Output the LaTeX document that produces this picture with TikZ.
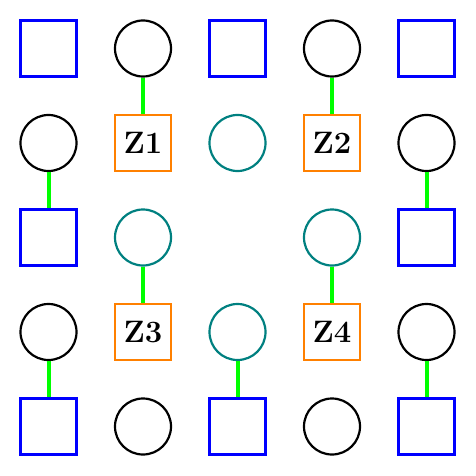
\documentclass[tikz,border=0pt]{standalone}
\begin{document}
\begin{tikzpicture}[x=1pt,y=-1pt,
  bsq/.style={draw=blue,line width=2.2pt,rectangle,minimum size=56pt,inner sep=0pt},
  kci/.style={draw=black,line width=2.2pt,circle,minimum size=56pt,inner sep=0pt},
  tci/.style={draw={rgb,255:red,0;green,128;blue,128},line width=2.2pt,circle,minimum size=56pt,inner sep=0pt},
  zsq/.style={draw={rgb,255:red,255;green,128;blue,0},line width=2.2pt,rectangle,minimum size=56pt,inner sep=0pt,font=\fontsize{31pt}{33pt}\selectfont\bfseries},
  link/.style={draw={rgb,255:red,0;green,255;blue,0},line width=4pt}]
\useasboundingbox (0,0) rectangle (476,476);
\def\a{48.5}\def\b{143}\def\c{237.5}\def\d{332}\def\e{426.5}
% row 1
\node[bsq] (n11) at (\a,\a) {};
\node[kci] (n12) at (\b,\a) {};
\node[bsq] (n13) at (\c,\a) {};
\node[kci] (n14) at (\d,\a) {};
\node[bsq] (n15) at (\e,\a) {};
% row 2
\node[kci] (n21) at (\a,\b) {};
\node[zsq] (n22) at (\b,\b) {Z1};
\node[tci] (n23) at (\c,\b) {};
\node[zsq] (n24) at (\d,\b) {Z2};
\node[kci] (n25) at (\e,\b) {};
% row 3
\node[bsq] (n31) at (\a,\c) {};
\node[tci] (n32) at (\b,\c) {};
\node[tci] (n34) at (\d,\c) {};
\node[bsq] (n35) at (\e,\c) {};
% row 4
\node[kci] (n41) at (\a,\d) {};
\node[zsq] (n42) at (\b,\d) {Z3};
\node[tci] (n43) at (\c,\d) {};
\node[zsq] (n44) at (\d,\d) {Z4};
\node[kci] (n45) at (\e,\d) {};
% row 5
\node[bsq] (n51) at (\a,\e) {};
\node[kci] (n52) at (\b,\e) {};
\node[bsq] (n53) at (\c,\e) {};
\node[kci] (n54) at (\d,\e) {};
\node[bsq] (n55) at (\e,\e) {};
% links
\draw[link] (n12) -- (n22);
\draw[link] (n14) -- (n24);
\draw[link] (n21) -- (n31);
\draw[link] (n25) -- (n35);
\draw[link] (n32) -- (n42);
\draw[link] (n34) -- (n44);
\draw[link] (n41) -- (n51);
\draw[link] (n43) -- (n53);
\draw[link] (n45) -- (n55);
\end{tikzpicture}
\end{document}
